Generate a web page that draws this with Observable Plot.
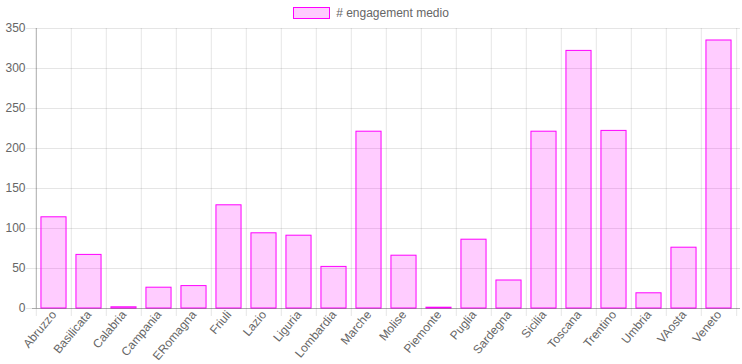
<!DOCTYPE html>
<html>
<head>
<meta charset="utf-8">
<script src="https://cdn.jsdelivr.net/npm/d3@7"></script>
<script src="https://cdn.jsdelivr.net/npm/@observablehq/plot@0.6"></script>
<style>
  html, body { margin: 0; padding: 0; background: #fff; }
  body { width: 742px; height: 364px; overflow: hidden; position: relative; font-family: "Liberation Sans", Helvetica, Arial, sans-serif; }
  #legend { position: absolute; top: 0; left: 0; width: 742px; height: 26px; display: flex; align-items: center; justify-content: center; font-size: 12px; color: #666; z-index: 2; }
  #legend .box { width: 35px; height: 10px; background: rgba(255,0,255,0.2); border: 1px solid #ff00ff; margin-right: 6px; }
  #chart { position: absolute; top: 0; left: 0; }
</style>
</head>
<body>
<div id="chart"></div>
<div id="legend"><span class="box"></span><span id="legend-label"></span></div>
<script>
const seriesName = "# engagement medio";
const regions = ["Abruzzo","Basilicata","Calabria","Campania","ERomagna","Friuli","Lazio","Liguria","Lombardia","Marche","Molise","Piemonte","Puglia","Sardegna","Sicilia","Toscana","Trentino","Umbria","VAosta","Veneto"];
const engagement = [114, 67, 1.5, 26, 28, 129, 94, 91, 52, 221, 66, 1, 86, 35, 221, 322, 222, 19, 76, 335];
const yTicks = [0, 50, 100, 150, 200, 250, 300, 350];

document.getElementById("legend-label").textContent = seriesName;

const data = regions.map((r, i) => ({region: r, value: engagement[i]}));
const W = 742, ML = 32, MR = 2;
const bw = (W - ML - MR) / regions.length;
const inset = bw * 0.14;

const chart = Plot.plot({
  width: W,
  height: 364,
  marginTop: 28,
  marginBottom: 56,
  marginLeft: ML,
  marginRight: MR,
  style: {fontFamily: '"Liberation Sans", Helvetica, Arial, sans-serif', fontSize: "12px", color: "#666", background: "#fff"},
  x: {domain: regions, padding: 0},
  y: {domain: [0, 350]},
  marks: [
    Plot.ruleY(yTicks, {y: d => d, stroke: "#000", strokeOpacity: 0.1, insetLeft: -6}),
    Plot.ruleX(regions, {x: d => d, dx: -bw / 2, stroke: "#000", strokeOpacity: 0.1, insetBottom: -8}),
    Plot.ruleX([regions[regions.length - 1]], {x: d => d, dx: bw / 2, stroke: "#000", strokeOpacity: 0.1, insetBottom: -8}),
    Plot.barY(data, {x: "region", y: "value", fill: "#ff00ff", fillOpacity: 0.2, stroke: "#ff00ff", strokeWidth: 1, insetLeft: inset, insetRight: inset}),
    Plot.ruleY([0], {stroke: "#000", strokeOpacity: 0.25}),
    Plot.ruleX([regions[0]], {x: d => d, dx: -bw / 2, stroke: "#000", strokeOpacity: 0.25}),
    Plot.axisY({ticks: yTicks, tickSize: 0, tickPadding: 7, label: null, fill: "#666"}),
    Plot.axisX({tickSize: 0, tickPadding: 4, tickRotate: -50, label: null, fill: "#666"})
  ]
});
document.getElementById("chart").appendChild(chart);
</script>
</body>
</html>
